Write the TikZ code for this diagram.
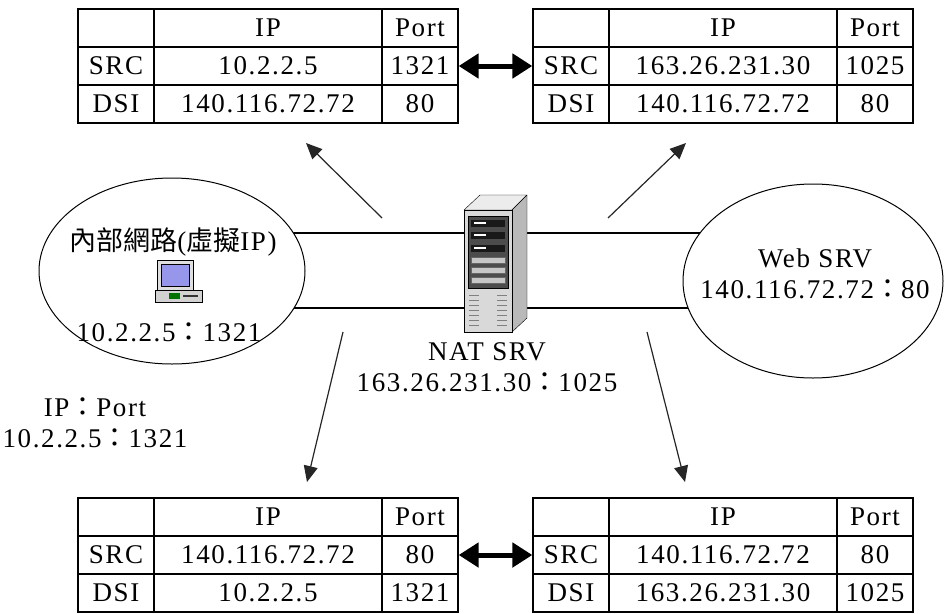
\documentclass[tikz,border=0pt]{standalone}
\usepackage{fontspec}
\setmainfont{Liberation Serif}[LetterSpace=6]
\newfontfamily\cjk{Noto Sans CJK TC}
\usepackage{tikz}
\usetikzlibrary{arrows.meta,positioning,shapes.geometric,backgrounds}

\newcommand{\fcolon}{{\cjk ：}}

\tikzset{
  every node/.style={font=\fontsize{27}{31}\selectfont},
  cell/.style={draw, line width=1.3pt, inner sep=0pt, minimum height=38pt},
  net/.style={ellipse, draw, line width=1pt, fill=white, inner sep=0pt},
  link/.style={line width=1.3pt},
  flow/.style={line width=1.2pt, black!85, -{Triangle[length=16pt,width=14pt]}},
  swap/.style={line width=5pt, {Triangle[length=20pt,width=24pt]}-{Triangle[length=20pt,width=24pt]}},
}

% one address table: name, x, y, src ip, src port, dst ip, dst port
\newcommand{\pkttable}[7]{%
  \begin{scope}[shift={(#2,#3)}]
    \node[cell, minimum width=76pt]  (#1-corner)  at (38,19)  {};
    \node[cell, minimum width=228pt] (#1-ip)      at (190,19) {IP};
    \node[cell, minimum width=76pt]  (#1-port)    at (342,19) {Port};
    \node[cell, minimum width=76pt]  (#1-src)     at (38,57)  {SRC};
    \node[cell, minimum width=228pt] (#1-srcip)   at (190,57) {#4};
    \node[cell, minimum width=76pt]  (#1-srcport) at (342,57) {#5};
    \node[cell, minimum width=76pt]  (#1-dst)     at (38,95)  {DSI};
    \node[cell, minimum width=228pt] (#1-dstip)   at (190,95) {#6};
    \node[cell, minimum width=76pt]  (#1-dstport) at (342,95) {#7};
  \end{scope}}

\begin{document}
\begin{tikzpicture}[x=1pt, y=-1pt]
  \useasboundingbox (0,0) rectangle (944,613);

  % the four address tables
  \pkttable{tl}{78}{9}{10.2.2.5}{1321}{140.116.72.72}{80}
  \pkttable{tr}{533}{9}{163.26.231.30}{1025}{140.116.72.72}{80}
  \pkttable{bl}{78}{498}{140.116.72.72}{80}{10.2.2.5}{1321}
  \pkttable{br}{533}{498}{140.116.72.72}{80}{163.26.231.30}{1025}

  \draw[swap] (tl-srcport.east) -- (tr-src.west);
  \draw[swap] (bl-srcport.east) -- (br-src.west);

  % the two networks
  \node[net, minimum width=266pt, minimum height=186pt] (lan) at (172,271) {};
  \node[net, minimum width=260pt, minimum height=194pt] (web) at (813,281) {};

  \node (lantitle) at (173,242) {{\cjk 內部網路}({\cjk 虛擬}IP)};
  \node (lanaddr) at (169,332) {10.2.2.5\fcolon 1321};
  \node[align=center] (webtxt) at (815,274) {Web SRV\\140.116.72.72\fcolon 80};
  \node[align=center] (legend) at (95,423) {IP\fcolon Port\\10.2.2.5\fcolon 1321};
  \node[align=center] (natsrv) at (487,367) {NAT SRV\\163.26.231.30\fcolon 1025};

  \coordinate (up) at (0,233);
  \coordinate (dn) at (0,308);
  \begin{scope}[on background layer]
    \draw[link] (lan |- up) -- (web |- up);
    \draw[link] (lan |- dn) -- (web |- dn);
  \end{scope}

  % client pc
  \draw[fill=gray!25] (157,260) rectangle (193,290);
  \draw[fill={rgb,255:red,150;green,150;blue,235}] (161,264) rectangle (189,286);
  \draw[fill=gray!35] (155,290) rectangle (202,302);
  \fill[green!45!black] (169,293) rectangle (180,299);
  \fill[black!80] (183,295) rectangle (198,297);

  % nat server box
  \draw[fill=gray!15, line join=round] (464,210) -- (480,195) -- (527,195) -- (512,210) -- cycle;
  \draw[fill=gray!55, line join=round] (512,210) -- (527,195) -- (527,318) -- (512,332) -- cycle;
  \draw[fill=gray!30] (464,210) rectangle (512,332);
  \draw[fill=black!70] (468,216) rectangle (508,288);
  \foreach \y in {220,232,245} {
    \fill[black!90] (471,\y) rectangle (505,\y+7);
    \fill[white] (474,\y+2) rectangle (486,\y+4);
  }
  \foreach \y in {257,267,277}
    \draw[fill=gray!45, draw=black!60] (471,\y) rectangle (505,\y+6);
  \foreach \y in {295,300,...,325} {
    \draw[black!50, line width=.6pt] (469,\y) -- (479,\y);
    \draw[black!50, line width=.6pt] (497,\y) -- (507,\y);
  }

  % address translation flows
  \coordinate (tlfrom) at (382,218);
  \coordinate (tlto)   at (306,143);
  \coordinate (trfrom) at (608,218);
  \coordinate (trto)   at (686,143);
  \coordinate (blfrom) at (343,332);
  \coordinate (blto)   at (307,482);
  \coordinate (brfrom) at (647,332);
  \coordinate (brto)   at (685,482);
  \draw[flow] (tlfrom) -- (tlto);
  \draw[flow] (trfrom) -- (trto);
  \draw[flow] (blfrom) -- (blto);
  \draw[flow] (brfrom) -- (brto);
\end{tikzpicture}
\end{document}
